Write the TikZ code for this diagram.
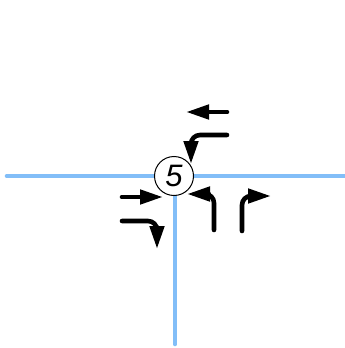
\documentclass[tikz,border=0pt]{standalone}
\usepackage{fontspec}
\setmainfont{Liberation Sans}
\usetikzlibrary{arrows.meta}
\definecolor{road}{RGB}{130,190,248}
\tikzset{
  x=1pt,y=-1pt,
  roadline/.style={draw=road,line width=4.6pt,line cap=round},
  lanearrow/.style={draw=black,line width=4.6pt,line cap=round,rounded corners=9pt,
    -{Triangle[length=23pt,width=14pt]}},
  signal/.style={circle,draw=black,line width=1pt,fill=white,minimum size=39pt,inner sep=0pt,
    font=\fontsize{31pt}{31pt}\selectfont\itshape}
}
\begin{document}
\begin{tikzpicture}
\useasboundingbox (0,0) rectangle (345,348);
\coordinate (w) at (7,176);
\coordinate (e) at (344,176);
\coordinate (s) at (175,344);
\coordinate (j) at (175,176);
\draw[roadline] (w) -- (e);
\draw[roadline] (j) -- (s);
\node[signal] (sig) at (174,176) {5};
\coordinate (a1s) at (227,112);  \coordinate (a1e) at (186,112);
\draw[lanearrow] (a1s) -- (a1e);
\coordinate (a2s) at (227,135);  \coordinate (a2c) at (191,135); \coordinate (a2e) at (191,164);
\draw[lanearrow] (a2s) -- (a2c) -- (a2e);
\coordinate (a3s) at (122,197);  \coordinate (a3e) at (163,197);
\draw[lanearrow] (a3s) -- (a3e);
\coordinate (a4s) at (122,221);  \coordinate (a4c) at (157,221); \coordinate (a4e) at (157,249);
\draw[lanearrow] (a4s) -- (a4c) -- (a4e);
\coordinate (a5s) at (214,230);  \coordinate (a5c) at (214,194); \coordinate (a5e) at (187,194);
\draw[lanearrow] (a5s) -- (a5c) -- (a5e);
\coordinate (a6s) at (242,231);  \coordinate (a6c) at (242,196); \coordinate (a6e) at (271,196);
\draw[lanearrow] (a6s) -- (a6c) -- (a6e);
\end{tikzpicture}
\end{document}
